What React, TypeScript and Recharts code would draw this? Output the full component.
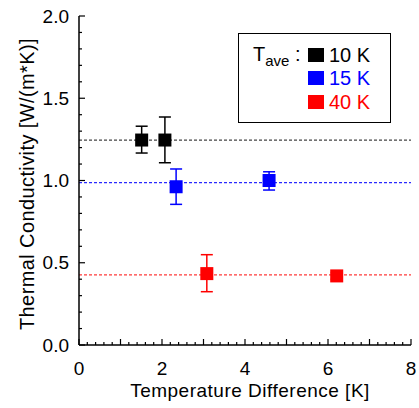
import { ScatterChart, Scatter, XAxis, YAxis, ReferenceLine, ErrorBar } from "recharts";

// ─── Data ─────────────────────────────────────────────────────────────────────

const seriesLabels = ["10 K", "15 K", "40 K"];
const seriesColors = ["#000000", "#0000ff", "#ff0000"];
const levelColors = ["#444444", "#2a2aff", "#ff3a3a"];

// temperature difference [K]
const dT10 = [1.51, 2.07];
const dT15 = [2.34, 4.58];
const dT40 = [3.08, 6.21];

// thermal conductivity [W/(m*K)]
const k10 = [1.246, 1.246];
const k15 = [0.962, 1.0];
const k40 = [0.434, 0.42];

// error bars [low, high]
const err10 = [[0.079, 0.084], [0.138, 0.14]];
const err15 = [[0.107, 0.108], [0.058, 0.053]];
const err40 = [[0.11, 0.115], [0.02, 0.02]];

// averaged level per series (dashed lines)
const meanLevels = [1.245, 0.987, 0.426];

const xLabelTicks = [0, 2, 4, 6, 8];
const yLabelTicks = [0, 0.5, 1.0, 1.5, 2.0];
const xMinorTicks = Array.from({ length: 41 }, (_, i) => Math.round(i * 2) / 10);
const yMinorTicks = Array.from({ length: 21 }, (_, i) => i / 10);

const FONT = '"Liberation Sans", Arial, sans-serif';

function toPoints(xs: number[], ys: number[], errs: number[][]) {
  return xs.map((x, i) => ({ x, y: ys[i], err: errs[i] }));
}

const series = [
  toPoints(dT10, k10, err10),
  toPoints(dT15, k15, err15),
  toPoints(dT40, k40, err40),
];

// ─── Ticks (drawn inward) ─────────────────────────────────────────────────────

const isInt = (v: number) => Math.abs(v - Math.round(v)) < 1e-6;
const isHalf = (v: number) => Math.abs(v * 2 - Math.round(v * 2)) < 1e-6;

function BottomTick(props: any) {
  const { x, y, payload } = props;
  const v = payload.value as number;
  const len = isInt(v) ? 6 : 3;
  const labelled = xLabelTicks.some((t) => Math.abs(t - v) < 1e-6);
  return (
    <g>
      <line x1={x} x2={x} y1={y} y2={y - len} stroke="#000" strokeWidth={1.2} />
      {labelled && (
        <text x={x} y={y + 30} textAnchor="middle" fontSize={19} fontFamily={FONT} fill="#000">
          {v}
        </text>
      )}
    </g>
  );
}

function TopTick(props: any) {
  const { x, y, payload } = props;
  const len = isInt(payload.value) ? 6 : 3;
  return <line x1={x} x2={x} y1={y} y2={y + len} stroke="#000" strokeWidth={1.2} />;
}

function LeftTick(props: any) {
  const { x, y, payload } = props;
  const v = payload.value as number;
  const len = isHalf(v) ? 6 : 3;
  const labelled = yLabelTicks.some((t) => Math.abs(t - v) < 1e-6);
  return (
    <g>
      <line x1={x} x2={x + len} y1={y} y2={y} stroke="#000" strokeWidth={1.2} />
      {labelled && (
        <text x={x - 10} y={y + 6.5} textAnchor="end" fontSize={19} fontFamily={FONT} fill="#000">
          {v.toFixed(1)}
        </text>
      )}
    </g>
  );
}

function RightTick(props: any) {
  const { x, y, payload } = props;
  const len = isHalf(payload.value) ? 6 : 3;
  return <line x1={x} x2={x - len} y1={y} y2={y} stroke="#000" strokeWidth={1.2} />;
}

function XTitle(props: any) {
  const vb = props.viewBox ?? { x: 79, width: 332, y: 345 };
  return (
    <text x={vb.x + vb.width / 2 + 5} y={397} textAnchor="middle" fontSize={19} fontFamily={FONT} fill="#000" letterSpacing={0.5}>
      Temperature Difference [K]
    </text>
  );
}

function YTitle() {
  return (
    <text
      x={0}
      y={0}
      transform="translate(27, 184) rotate(-90)"
      textAnchor="middle"
      dominantBaseline="central"
      fontSize={20}
      fontFamily={FONT}
      fill="#000"
      letterSpacing={0.4}
    >
      Thermal Conductivity [W/(m*K)]
    </text>
  );
}

function SquareDot(color: string) {
  return function Sq(props: any) {
    const { cx, cy } = props;
    return <rect x={cx - 6.5} y={cy - 6.5} width={13} height={13} fill={color} />;
  };
}

// ─── Legend ───────────────────────────────────────────────────────────────────

function LegendBox() {
  const rowTops = [14, 37, 61];
  return (
    <div
      style={{
        position: "absolute", left: 238, top: 33, width: 151, height: 88,
        border: "1.5px solid #000", background: "#fff", fontFamily: FONT,
      }}
    >
      <div style={{ position: "absolute", left: 14, top: rowTops[0] - 5, fontSize: 20, color: "#000", whiteSpace: "nowrap" }}>
        T<sub style={{ fontSize: 15, verticalAlign: "-5px" }}>ave</sub> :
      </div>
      {seriesLabels.map((s, i) => (
        <div key={s} style={{ position: "absolute", left: 69, top: rowTops[i], display: "flex", alignItems: "center", gap: 5 }}>
          <span style={{ width: 16, height: 14, background: seriesColors[i], display: "inline-block" }} />
          <span style={{ fontSize: 20, color: seriesColors[i], lineHeight: "14px" }}>{s}</span>
        </div>
      ))}
    </div>
  );
}

// ─── Chart ────────────────────────────────────────────────────────────────────

export default function App() {
  return (
    <div style={{ position: "absolute", left: 0, top: 0, width: 419, height: 408, background: "#fff" }}>
      <ScatterChart width={419} height={408} margin={{ top: 16, right: 8, bottom: 0, left: 0 }}>
        <XAxis
          xAxisId="b" dataKey="x" type="number" domain={[0, 8]} ticks={xMinorTicks} interval={0}
          orientation="bottom" height={63} tickSize={0} tickMargin={0} tickLine={false}
          axisLine={{ stroke: "#000", strokeWidth: 1.5 }} tick={<BottomTick />} label={<XTitle />}
          allowDataOverflow
        />
        <XAxis
          xAxisId="t" type="number" domain={[0, 8]} ticks={xMinorTicks} interval={0}
          orientation="top" height={0} tickSize={0} tickMargin={0} tickLine={false}
          axisLine={{ stroke: "#000", strokeWidth: 1.5 }} tick={<TopTick />}
        />
        <YAxis
          yAxisId="l" dataKey="y" type="number" domain={[0, 2]} ticks={yMinorTicks} interval={0}
          orientation="left" width={79} tickSize={0} tickMargin={0} tickLine={false}
          axisLine={{ stroke: "#000", strokeWidth: 1.5 }} tick={<LeftTick />} label={<YTitle />}
          allowDataOverflow
        />
        <YAxis
          yAxisId="r" type="number" domain={[0, 2]} ticks={yMinorTicks} interval={0}
          orientation="right" width={0} tickSize={0} tickMargin={0} tickLine={false}
          axisLine={{ stroke: "#000", strokeWidth: 1.5 }} tick={<RightTick />}
        />
        {meanLevels.map((lv, i) => (
          <ReferenceLine
            key={i} xAxisId="b" yAxisId="l" y={lv}
            stroke={levelColors[i]} strokeWidth={1.2} strokeDasharray="3 2"
          />
        ))}
        {series.map((data, i) => (
          <Scatter
            key={seriesLabels[i]} name={seriesLabels[i]} data={data}
            xAxisId="b" yAxisId="l" fill={seriesColors[i]}
            shape={SquareDot(seriesColors[i])} isAnimationActive={false}
          >
            <ErrorBar
              dataKey="err" direction="y" width={6} stroke={seriesColors[i]}
              strokeWidth={1.5} isAnimationActive={false}
            />
          </Scatter>
        ))}
      </ScatterChart>
      <LegendBox />
    </div>
  );
}
